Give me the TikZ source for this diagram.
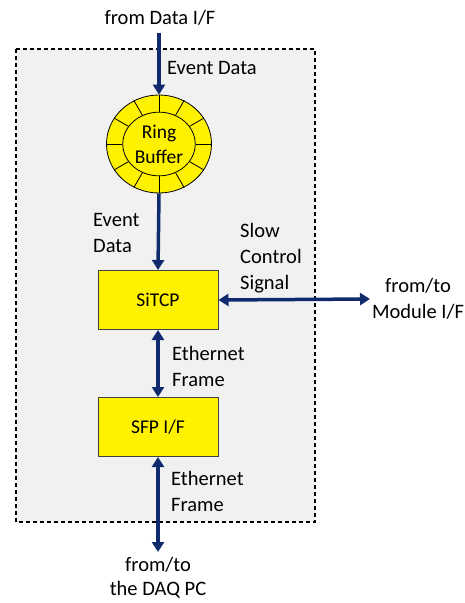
\documentclass[tikz,border=0pt]{standalone}
\usepackage{fontspec}
\setmainfont{Carlito}
\usetikzlibrary{arrows.meta,positioning,shapes.geometric}
\definecolor{navy}{HTML}{0F2B6E}
\definecolor{boxgray}{HTML}{F1F1F1}

\begin{document}
\begin{tikzpicture}[x=1pt,y=-1pt,
        font=\fontsize{20.5}{26}\selectfont,
        flow/.style={line width=3.5pt, draw=navy, -{Triangle[length=10pt,width=12pt]}},
        dflow/.style={line width=3.5pt, draw=navy, {Triangle[length=10pt,width=12pt]}-{Triangle[length=10pt,width=12pt]}},
        block/.style={rectangle, draw=black!75, line width=1pt, fill=yellow, minimum width=120pt, minimum height=59pt, inner sep=0pt},
        lbl/.style={align=left, inner sep=0pt, anchor=west}]
        \useasboundingbox (0,0) rectangle (465,603);
        \def\ringrx{105}
        \def\ringry{98}

        \draw[dashed, dash pattern=on 4pt off 3pt, line width=1.5pt, fill=boxgray] (16,49) rectangle (315,522);

        \node(datain) at (160,18) {from Data I/F};
        \coordinate (datatop) at (159,33);

        \node(ring) [ellipse, draw, line width=0.8pt, fill=yellow, minimum width = \ringrx pt, minimum height = \ringry pt, inner sep=0pt] at (159,144) {};
        \node(ringin) [ellipse, draw, line width=0.8pt, minimum width = 0.69*\ringrx pt, minimum height = 0.65*\ringry pt, inner sep=0pt, align=center, font=\fontsize{19.5}{25}\selectfont] at (ring) {Ring\\Buffer};
        \foreach \a in {0,30,...,330}
            \draw[line width=0.8pt] (ringin.\a) -- (ring.\a);

        \node(sitcp) [block, font=\fontsize{19.5}{25}\selectfont] at (158,300) {SiTCP};
        \node(sfp) [block, font=\fontsize{19.5}{25}\selectfont] at (158,427) {SFP I/F};

        \coordinate (modout) at (370,299);
        \coordinate (pcout) at (158,552);
        \node(module) [align=center, inner sep=0pt] at (418,299) {from/to\\Module I/F};
        \node(daqpc) [align=center, inner sep=0pt, font=\fontsize{20.5}{24}\selectfont] at (158,578) {from/to\\the DAQ PC};

        \draw[flow] (datatop) -- (ring.north);
        \draw[flow] (ring.south) -- (sitcp.north);
        \draw[dflow] (sitcp.east) -- (modout);
        \draw[dflow] (sitcp.south) -- (sfp.north);
        \draw[dflow] (sfp.south) -- (pcout);

        \node(evtop) [lbl] at (167,68) {Event Data};
        \node(evleft) [lbl] at (93,233) {Event\\Data};
        \node(slow) [lbl] at (240,258) {Slow\\Control\\Signal};
        \node(eth1) [lbl] at (172,366) {Ethernet\\Frame};
        \node(eth2) [lbl] at (171,491) {Ethernet\\Frame};
    \end{tikzpicture}
\end{document}
